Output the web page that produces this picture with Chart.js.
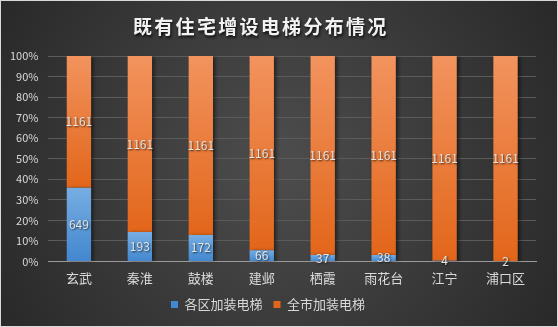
<!DOCTYPE html>
<html>
<head>
<meta charset="utf-8">
<script src="https://cdn.jsdelivr.net/npm/chart.js@4/dist/chart.umd.min.js"></script>
<style>
  html, body { margin: 0; padding: 0; background: #2a2a2a; }
  #wrap { width: 558px; height: 327px; }
</style>
</head>
<body>
<div id="wrap"><canvas id="myChart" width="558" height="327"></canvas></div>
<script>
// data
const chartTitle = '既有住宅增设电梯分布情况';
const districts = ['玄武', '秦淮', '鼓楼', '建邺', '栖霞', '雨花台', '江宁', '浦口区'];
const districtLifts = [649, 193, 172, 66, 37, 38, 4, 2];
const cityLifts = [1161, 1161, 1161, 1161, 1161, 1161, 1161, 1161];
const yTicks = ['0%', '10%', '20%', '30%', '40%', '50%', '60%', '70%', '80%', '90%', '100%'];

const fontName = '"Microsoft YaHei", "Noto Sans CJK SC", sans-serif';

// share of each part in the column (100% stacked)
const districtPct = districtLifts.map((v, i) => v / (v + cityLifts[i]) * 100);
const cityPct = cityLifts.map((v, i) => v / (v + districtLifts[i]) * 100);

// vertical gradient over one segment of the stack
function barGradient(c1, c2) {
    return function (context) {
        const chart = context.chart;
        const y = chart.scales.y;
        if (!chart.chartArea || !y || context.dataIndex === undefined) return c2;
        const i = context.dataIndex;
        const from = context.datasetIndex === 0 ? 0 : districtPct[i];
        const to = context.datasetIndex === 0 ? districtPct[i] : 100;
        const top = y.getPixelForValue(to);
        const bottom = y.getPixelForValue(from);
        if (!isFinite(top) || !isFinite(bottom) || bottom - top < 1) return c2;
        const g = chart.ctx.createLinearGradient(0, top, 0, bottom);
        g.addColorStop(0, c1);
        g.addColorStop(1, c2);
        return g;
    };
}

const bgPlugin = {
    id: 'bg',
    beforeDraw(chart) {
        const c = chart.ctx;
        const w = chart.width, h = chart.height;
        c.save();
        const g = c.createRadialGradient(w / 2, h / 2, 20, w / 2, h / 2, w * 0.62);
        g.addColorStop(0, '#4b4b4b');
        g.addColorStop(1, '#262626');
        c.fillStyle = g;
        c.fillRect(0, 0, w, h);
        c.strokeStyle = '#d9d9d9';
        c.lineWidth = 1;
        c.strokeRect(0.5, 0.5, w - 1, h - 1);

        // title with spaced letters
        c.font = 'bold 19px ' + fontName;
        c.letterSpacing = '2.3px';
        c.textAlign = 'left';
        c.textBaseline = 'middle';
        c.shadowColor = 'rgba(0,0,0,0.8)';
        c.shadowBlur = 3;
        c.shadowOffsetX = 1;
        c.shadowOffsetY = 2;
        c.fillStyle = '#f2f2f2';
        c.fillText(chartTitle, 133, 27);
        c.restore();
    },
    beforeDatasetsDraw(chart) {
        const c = chart.ctx;
        c.save();
        c.shadowColor = 'rgba(0,0,0,0.55)';
        c.shadowBlur = 4;
        c.shadowOffsetX = 2;
        c.shadowOffsetY = 1;
    },
    afterDatasetsDraw(chart) {
        chart.ctx.restore();
        // value labels in the middle of each segment
        const c = chart.ctx;
        c.save();
        c.font = '12px ' + fontName;
        c.textAlign = 'center';
        c.textBaseline = 'middle';
        c.shadowColor = 'rgba(0,0,0,0.7)';
        c.shadowBlur = 2;
        c.shadowOffsetX = 1;
        c.shadowOffsetY = 1;
        c.fillStyle = '#e4e4e4';
        chart.data.datasets.forEach((ds, di) => {
            const meta = chart.getDatasetMeta(di);
            meta.data.forEach((bar, i) => {
                const y = (bar.y + bar.base) / 2;
                c.fillText(String(ds.raw[i]), bar.x, y);
            });
        });
        c.restore();
    }
};

const ctx = document.getElementById('myChart');

new Chart(ctx, {
    type: 'bar',
    data: {
        labels: districts,
        datasets: [{
            label: '各区加装电梯',
            data: districtPct,
            raw: districtLifts,
            backgroundColor: barGradient('#77ade2', '#4287cf'),
            borderWidth: 0,
            barPercentage: 0.8,
            categoryPercentage: 0.5
        }, {
            label: '全市加装电梯',
            data: cityPct,
            raw: cityLifts,
            backgroundColor: barGradient('#f2935e', '#e2661a'),
            borderWidth: 0,
            barPercentage: 0.8,
            categoryPercentage: 0.5
        }]
    },
    options: {
        responsive: false,
        animation: false,
        layout: { padding: { left: 0, right: 22, top: 56, bottom: 6 } },
        plugins: {
            legend: {
                position: 'bottom',
                labels: {
                    color: '#d9d9d9',
                    font: { family: fontName, size: 13 },
                    boxWidth: 7,
                    boxHeight: 7,
                    padding: 11
                }
            },
            tooltip: { enabled: false }
        },
        scales: {
            x: {
                stacked: true,
                grid: { display: false },
                border: { color: '#9a9a9a', width: 1 },
                ticks: { color: '#d9d9d9', font: { family: fontName, size: 13 }, padding: 1 }
            },
            y: {
                stacked: true,
                min: 0,
                max: 100,
                grid: { color: '#5b5b5b', drawTicks: false },
                border: { display: false },
                ticks: {
                    stepSize: 10,
                    color: '#d9d9d9',
                    font: { family: fontName, size: 11 },
                    padding: 10,
                    callback: (v) => yTicks[Math.round(v / 10)]
                }
            }
        }
    },
    plugins: [bgPlugin]
});
</script>
</body>
</html>
